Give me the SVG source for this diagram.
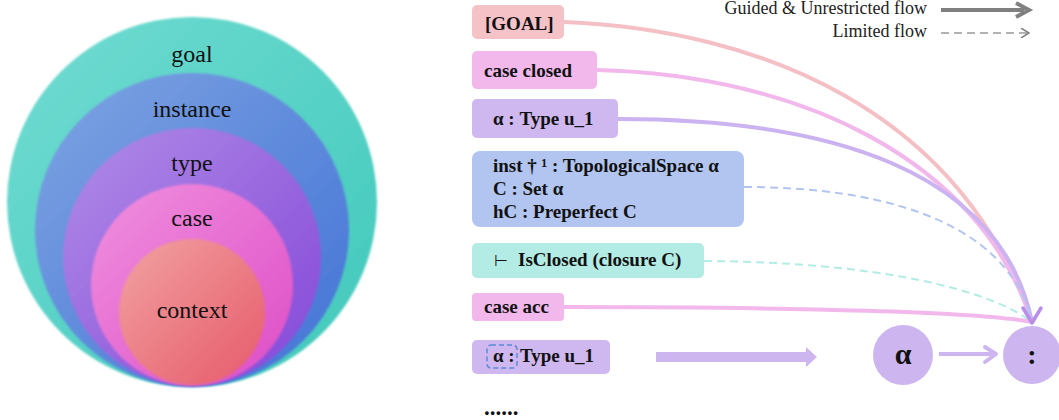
<svg xmlns="http://www.w3.org/2000/svg" width="1059" height="420" viewBox="0 0 1059 420">
<defs>
<style>
.lbl{font-family:"Liberation Serif","Times New Roman",serif;font-size:24px;fill:#111;text-anchor:middle}
.nt{font-family:"Liberation Serif","Times New Roman",serif;font-size:19px;font-weight:bold;fill:#111}
.lg{font-family:"Liberation Serif","Times New Roman",serif;font-size:18px;fill:#222;text-anchor:end}
.solid{fill:none;stroke-width:4;stroke-linecap:round}
.dash{fill:none;stroke-width:2;stroke-dasharray:8 5}
</style>
<linearGradient id="gGoal" x1="0" y1="0" x2="1" y2="1"><stop offset="0" stop-color="#72dcd2"/><stop offset="1" stop-color="#40c8bb"/></linearGradient>
<linearGradient id="gInst" x1="0" y1="0" x2="1" y2="1"><stop offset="0" stop-color="#7ea4e2"/><stop offset="1" stop-color="#4272d6"/></linearGradient>
<linearGradient id="gType" x1="0" y1="0" x2="1" y2="1"><stop offset="0" stop-color="#b08ce7"/><stop offset="1" stop-color="#8446d8"/></linearGradient>
<linearGradient id="gCase" x1="0" y1="0" x2="1" y2="1"><stop offset="0" stop-color="#f091df"/><stop offset="1" stop-color="#dd4cc6"/></linearGradient>
<linearGradient id="gCtx" x1="0" y1="0" x2="1" y2="1"><stop offset="0" stop-color="#f2a2a2"/><stop offset="1" stop-color="#e65a6a"/></linearGradient>
<filter id="glow" x="-10%" y="-10%" width="120%" height="120%"><feGaussianBlur stdDeviation="0.9"/></filter>
<marker id="legHead" markerWidth="10" markerHeight="10" refX="8" refY="5" orient="auto" markerUnits="userSpaceOnUse"><path d="M1,0 L9,5 L1,10" fill="none" stroke="#808080" stroke-width="1.5"/></marker>
</defs>
<rect width="1059" height="420" fill="#fff"/>

<g id="onion">
<g id="n-goal"><circle cx="192" cy="202" r="185" fill="url(#gGoal)" filter="url(#glow)"/><text class="lbl" x="192" y="62">goal</text></g>
<g id="n-instance"><circle cx="192" cy="230" r="157" fill="url(#gInst)" filter="url(#glow)"/><text class="lbl" x="192" y="117">instance</text></g>
<g id="n-type"><circle cx="192" cy="257" r="129" fill="url(#gType)" filter="url(#glow)"/><text class="lbl" x="192" y="171">type</text></g>
<g id="n-case"><circle cx="192" cy="285" r="101" fill="url(#gCase)" filter="url(#glow)"/><text class="lbl" x="192" y="226">case</text></g>
<g id="n-context"><circle cx="192" cy="312" r="73" fill="url(#gCtx)" filter="url(#glow)"/><text class="lbl" x="192" y="318">context</text></g>
</g>

<g id="legend">
<text class="lg" x="927" y="14">Guided &amp; Unrestricted flow</text>
<text class="lg" x="927" y="37">Limited flow</text>
<path d="M941,10 L1024,10" stroke="#808080" stroke-width="4" fill="none"/>
<path d="M1016,3 L1029,10 L1016,17" stroke="#808080" stroke-width="4" fill="none"/>
<path d="M941,33 L1028,33" stroke="#999" stroke-width="1.5" stroke-dasharray="8 5" fill="none" marker-end="url(#legHead)"/>
</g>

<g id="connectors">
<path class="solid" stroke="#f5c0c5" d="M564,22 C760,30 960,110 1032,322"/>
<path class="solid" stroke="#f2b8ec" d="M597,70 C800,75 980,160 1032,322"/>
<path class="solid" stroke="#cbb2f0" d="M618,119 C830,119 1000,170 1032,322"/>
<path class="dash" stroke="#b1c5f0" d="M744,187 C900,187 1010,230 1032,322"/>
<path class="dash" stroke="#b3ece4" d="M704,261 C880,262 990,290 1032,322"/>
<path class="solid" stroke="#f2b8ec" d="M564,307 C800,307 980,312 1032,322"/>
<path d="M1023,308 L1032,323 L1041,308" fill="none" stroke="#b98ee8" stroke-width="3.5" stroke-linecap="round" stroke-linejoin="round"/>
<path d="M656,352 L806,352 L806,347 L817,357 L806,367 L806,362 L656,362 Z" fill="#cdb6f0"/>
<path d="M939,354 L995,354" stroke="#cdb6f0" stroke-width="4" fill="none"/>
<path d="M985,347 L996,354 L985,362" stroke="#cdb6f0" stroke-width="4" fill="none" stroke-linecap="round" stroke-linejoin="round"/>
</g>

<g id="n-goalbox"><rect x="472" y="5" width="92" height="34" rx="5" fill="#f5c2c7"/><text class="nt" x="485" y="30">[GOAL]</text></g>
<g id="n-caseclosed"><rect x="472" y="51" width="125" height="38" rx="5" fill="#f2b8ec"/><text class="nt" x="484" y="77">case closed</text></g>
<g id="n-alpha"><rect x="472" y="99" width="146" height="39" rx="5" fill="#cfb8f0"/><text class="nt" x="493" y="125">α : Type u_1</text></g>
<g id="n-inst"><rect x="472" y="151" width="272" height="76" rx="8" fill="#b1c5f0"/>
<text class="nt" x="493" y="172">inst † ¹ : TopologicalSpace α</text>
<text class="nt" x="493" y="195">C : Set α</text>
<text class="nt" x="493" y="218">hC : Preperfect C</text></g>
<g id="n-isclosed"><rect x="472" y="243" width="232" height="35" rx="5" fill="#b3ece4"/><text class="nt" x="494" y="266" style="font-weight:normal;font-size:16px">⊢</text><text class="nt" x="518" y="266">IsClosed (closure C)</text></g>
<g id="n-caseacc"><rect x="472" y="293" width="92" height="28" rx="4" fill="#f2b8ec"/><text class="nt" x="484" y="313">case acc</text></g>
<g id="n-alpha2"><rect x="472" y="340" width="138" height="34" rx="5" fill="#cfb8f0"/>
<rect x="487" y="345" width="30" height="23" rx="4" fill="none" stroke="#5b8bd8" stroke-width="1.5" stroke-dasharray="5 3"/>
<text class="nt" x="493" y="362">α :</text><text class="nt" x="520" y="362">Type u_1</text></g>
<g id="n-dots"><text class="nt" x="484" y="415" style="font-size:23px">......</text></g>
<g id="n-acirc"><circle cx="903" cy="355" r="30" fill="#cdb6f0"/><text class="nt" x="903" y="364" text-anchor="middle" style="font-size:30px">α</text></g>
<g id="n-colon"><circle cx="1032" cy="355" r="29" fill="#cdb6f0"/><text class="nt" x="1032" y="364" text-anchor="middle" style="font-size:28px">:</text></g>
</svg>
